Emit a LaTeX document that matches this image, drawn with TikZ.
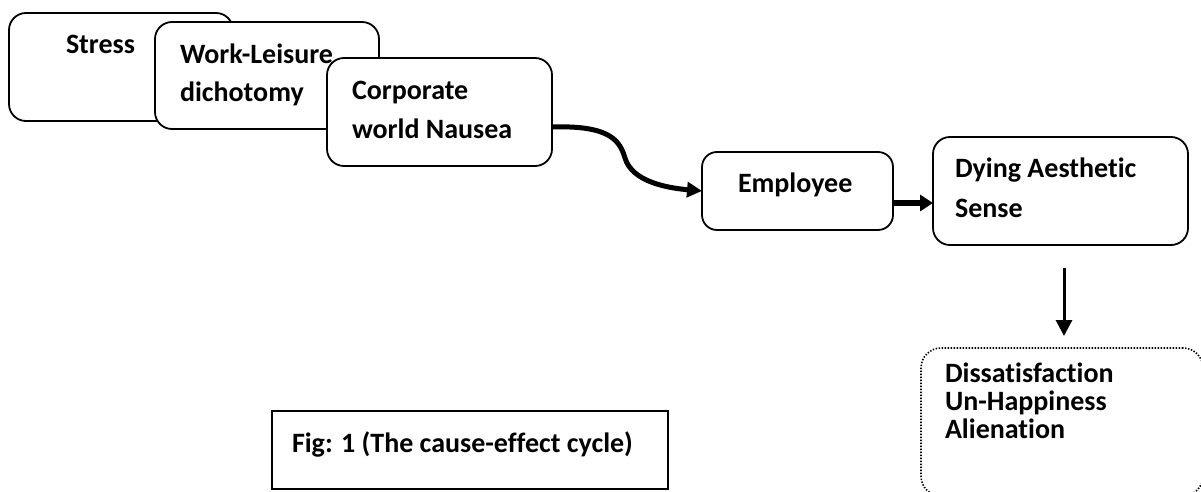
\documentclass[tikz,border=0pt]{standalone}
\usepackage{fontspec}
\setmainfont{Carlito}[Ligatures=NoCommon]
\usetikzlibrary{arrows.meta,calc}
\begin{document}
\begin{tikzpicture}[x=1pt,y=-1pt,
  box/.style={draw, line width=1.8pt, rounded corners=17pt, fill=white, inner sep=0pt, outer sep=0pt, anchor=north west},
  dotbox/.style={draw, line width=1.6pt, dash pattern=on 1.4pt off 1.6pt, rounded corners=20pt, inner sep=0pt, outer sep=0pt, anchor=north west},
  figbox/.style={draw, line width=2.6pt, inner sep=0pt, outer sep=0pt, anchor=north west},
  txt/.style={font=\fontsize{28}{28}\selectfont\bfseries, anchor=base west, inner sep=0pt, outer sep=0pt},
  thick arrow/.style={line width=5pt, -{Triangle[length=15pt,width=15pt]}}]
\useasboundingbox (0,0) rectangle (1201,492);
\clip (0,0) rectangle (1201,492);
\fill[white] (0,0) rectangle (1201,492);
% Stress
\node[box, minimum width=224pt, minimum height=108pt] (stress) at (9,13) {};
\node[txt] (tstress) at (66,54) {Stress};
% Work-Leisure
\node[box, minimum width=224pt, minimum height=107pt] (wl) at (155,22) {};
\node[txt] (twl1) at (180,64) {Work-Leisure};
\node[txt] (twl2) at (180,102) {dichotomy};
% Corporate
\node[box, minimum width=225pt, minimum height=108pt] (corp) at (327,58) {};
\node[txt] (tc1) at (352,100) {Corporate};
\node[txt] (tc2) at (352,139) {world Nausea};
% Employee
\node[box, minimum width=191pt, minimum height=78pt, rounded corners=15pt] (emp) at (702,152) {};
\node[txt] (temp) at (738,192) {Employee};
% Dying
\node[box, minimum width=255pt, minimum height=108pt] (dying) at (933,137) {};
\node[txt] (td1) at (955,177) {Dying Aesthetic};
\node[txt] (td2) at (955,217) {Sense};
% Dissatisfaction
\node[dotbox, minimum width=282pt, minimum height=148pt] (dis) at (921,348) {};
\node[txt] (tdis1) at (945,382) {Dissatisfaction};
\node[txt] (tdis2) at (945,410) {Un-Happiness};
\node[txt] (tdis3) at (945,438) {Alienation};
% Fig caption
\node[figbox, minimum width=396pt, minimum height=78pt] (fig) at (272,411) {};
\node[txt] (tfig) at (292,452) {Fig: 1 (The cause-effect cycle)};
% connectors
\coordinate (cstart) at ([yshift=-15pt]corp.east);
\draw[thick arrow] (cstart) .. controls (612,125) and (620,142) .. (625,158)
   .. controls (632,182) and (668,188) .. (emp.west);
\coordinate (estart) at ([yshift=-12pt]emp.east);
\draw[line width=5.5pt, -{Triangle[length=13pt,width=16pt]}] (estart) -- (estart -| dying.west);
\coordinate (va) at ([xshift=3.5pt,yshift=-23pt]dying.south);
\draw[line width=3pt, -{Triangle[length=16pt,width=16pt]}] (va) -- ([yshift=12pt]dis.north -| va);
\end{tikzpicture}
\end{document}
